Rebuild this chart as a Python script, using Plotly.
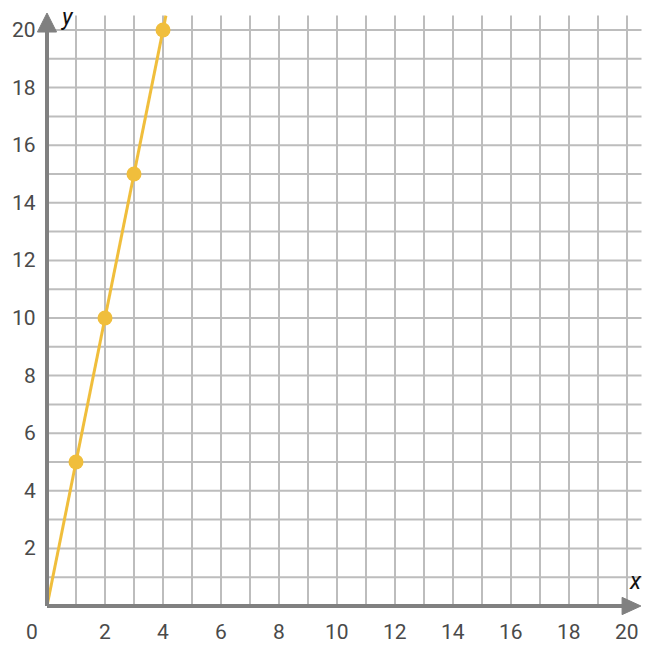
import plotly.graph_objects as go

# Data
x_vals = [0, 1, 2, 3, 4, 4.1]
y_vals = [0, 5, 10, 15, 20, 20.5]
marker_x = [1, 2, 3, 4]
marker_y = [5, 10, 15, 20]
x_ticks = [2, 4, 6, 8, 10, 12, 14, 16, 18, 20]
y_ticks = [2, 4, 6, 8, 10, 12, 14, 16, 18, 20]
grid_vals = list(range(1, 21))

W, H = 660, 646
xmin, xmax = -47 / 29, (W - 47) / 29
ymin, ymax = -(H - 606) / 28.8, 606 / 28.8

fig = go.Figure()

shapes = []
for g in grid_vals:
    shapes.append(dict(type="line", x0=g, x1=g, y0=0, y1=20.5, line=dict(color="#bdbdbd", width=2), layer="below"))
    shapes.append(dict(type="line", x0=0, x1=20.5, y0=g, y1=g, line=dict(color="#bdbdbd", width=2), layer="below"))
# axes
axc = "#808080"
shapes.append(dict(type="line", x0=0, x1=19.9, y0=0, y1=0, line=dict(color=axc, width=4)))
shapes.append(dict(type="line", x0=0, x1=0, y0=0, y1=19.95, line=dict(color=axc, width=4)))
shapes.append(dict(type="path", path="M 19.83 -0.3 L 20.48 0 L 19.83 0.3 Z", fillcolor=axc, line=dict(color=axc, width=1)))
shapes.append(dict(type="path", path="M -0.33 19.93 L 0 20.59 L 0.33 19.93 Z", fillcolor=axc, line=dict(color=axc, width=1)))

fig.add_trace(go.Scatter(x=x_vals, y=y_vals, mode="lines", line=dict(color="#F0BE3C", width=3), hoverinfo="skip"))
fig.add_trace(go.Scatter(x=marker_x, y=marker_y, mode="markers", marker=dict(color="#F0BE3C", size=15), hoverinfo="skip"))

annotations = []
tf = dict(family="Roboto", size=21, color="#4a4a4a")
for t in x_ticks:
    annotations.append(dict(x=t, y=0, text=str(t), showarrow=False, yshift=-26, font=tf))
annotations.append(dict(x=0, y=0, text="0", showarrow=False, yshift=-26, xshift=-15, font=tf))
for t in y_ticks:
    annotations.append(dict(x=0, y=t, text=str(t), showarrow=False, xanchor="right", xshift=-9, font=tf))
annotations.append(dict(x=0, y=20.45, text="<i>y</i>", showarrow=False, xshift=20, font=dict(family="Roboto", size=23, color="#111")))
annotations.append(dict(x=20.3, y=0, text="<i>x</i>", showarrow=False, yshift=25, xshift=0, font=dict(family="Roboto", size=23, color="#111")))

fig.update_layout(
    width=W, height=H, margin=dict(l=0, r=0, t=0, b=0),
    paper_bgcolor="white", plot_bgcolor="white", showlegend=False,
    xaxis=dict(range=[xmin, xmax], visible=False, fixedrange=True),
    yaxis=dict(range=[ymin, ymax], visible=False, fixedrange=True),
    shapes=shapes, annotations=annotations,
)
fig.write_html("out.html", config={"displayModeBar": False})
with open("out.html", "r", encoding="utf-8") as f:
    html = f.read()
html = html.replace("<head>", "<head><style>html,body{margin:0;padding:0;overflow:hidden}</style>", 1)
with open("out.html", "w", encoding="utf-8") as f:
    f.write(html)
